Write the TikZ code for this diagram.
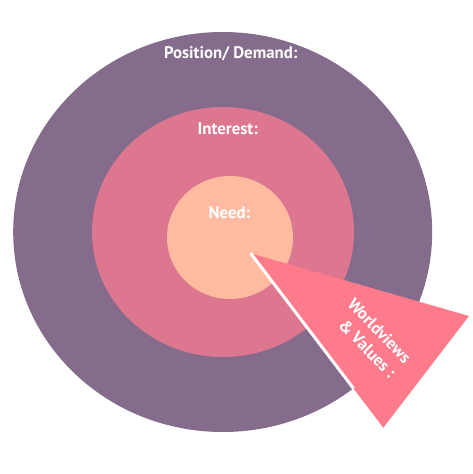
\documentclass[tikz,border=0pt]{standalone}
\usepackage{fontspec}
\setmainfont{PT Sans}
\usetikzlibrary{shapes.geometric}
\definecolor{outerc}{HTML}{856B8C}
\definecolor{midc}{HTML}{DC778F}
\definecolor{innerc}{HTML}{FEBBA0}
\definecolor{wedgec}{HTML}{FE7B8B}
\tikzset{
  ring/.style={ellipse, inner sep=0pt, draw=none},
  lbl/.style={text=white, font=\bfseries\fontsize{16.8}{20}\selectfont, inner sep=0pt}
}
\begin{document}
\begin{tikzpicture}[x=1pt,y=-1pt]
\useasboundingbox[fill=white] (0,0) rectangle (473,474);
\node[ring, fill=outerc, minimum width=419pt, minimum height=400pt] (outer) at (222.7,232) {};
\node[ring, fill=midc, minimum width=262pt, minimum height=250pt] (mid) at (223,232) {};
\node[ring, fill=innerc, minimum width=126pt, minimum height=123pt] (inner) at (230,237.5) {};
\coordinate (apex) at (250.7,253.3);
\coordinate (wr) at (469,316);
\coordinate (wb) at (383.3,427.7);
\coordinate (cut) at (353.5,388.5);
\fill[wedgec] (apex) -- (wr) -- (wb) -- cycle;
\draw[white, line width=3pt] (apex) -- (cut);
\node[lbl] (pos) at (230.7,54) {Position/ Demand:};
\node[lbl] (int) at (227.7,128.3) {Interest:};
\node[lbl] (need) at (229.3,212.3) {Need:};
\node[lbl, rotate=-46, align=right] (wv) at (372,338) {Worldviews\\[1pt] \& Values :};
\end{tikzpicture}
\end{document}
